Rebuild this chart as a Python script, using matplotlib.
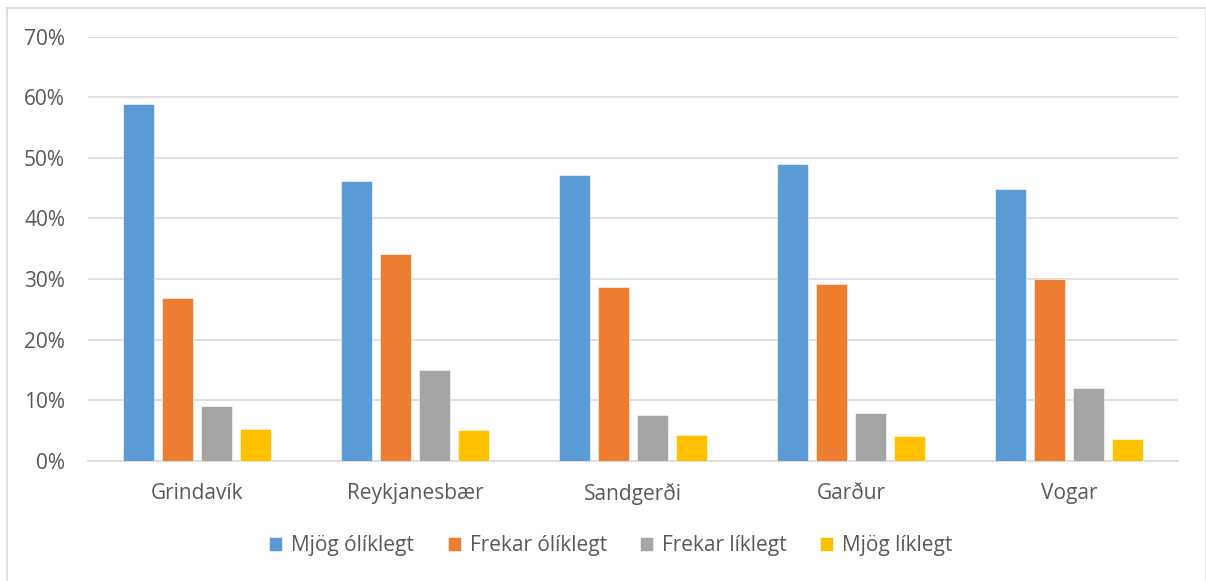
import matplotlib.pyplot as plt
import numpy as np
from matplotlib.lines import Line2D
from matplotlib.ticker import PercentFormatter

categories = ["Grindavík", "Reykjanesbær", "Sandgerði", "Garður", "Vogar"]
series_names = ["Mjög ólíklegt", "Frekar ólíklegt", "Frekar líklegt", "Mjög líklegt"]
mjog_oliklegt = [58.9, 46.2, 47.1, 49.0, 44.9]
frekar_oliklegt = [26.8, 34.1, 28.7, 29.2, 30.0]
frekar_liklegt = [9.0, 14.9, 7.6, 7.9, 12.0]
mjog_liklegt = [5.3, 5.0, 4.3, 4.0, 3.6]
series = [mjog_oliklegt, frekar_oliklegt, frekar_liklegt, mjog_liklegt]
colors = ["#5B9BD5", "#ED7D31", "#A5A5A5", "#FFC000"]

plt.rcParams["font.family"] = ["Open Sans", "DejaVu Sans"]
text_color = "#595959"
fs = 15

W, H = 1206, 581
fig = plt.figure(figsize=(W / 100, H / 100), dpi=100)
# plot area in pixels: x 88..1178, y 36.7..460.7
ax = fig.add_axes([88 / W, 1 - 460.7 / H, (1178 - 88) / W, (460.7 - 36.7) / H])

x = np.arange(len(categories))
width = 0.142
step = 0.18
offsets = (np.arange(len(series)) - 1.5) * step
for vals, off, col, name in zip(series, offsets, colors, series_names):
    ax.bar(x + off, vals, width, color=col, edgecolor="white", linewidth=0.4,
           label=name, zorder=3)

ax.set_xlim(-0.5, len(categories) - 0.5)
ax.set_ylim(0, 70)
ax.set_yticks(np.arange(0, 71, 10))
ax.yaxis.set_major_formatter(PercentFormatter(decimals=0))
ax.grid(axis="y", color="#D9D9D9", linewidth=1.2, zorder=0)
for s in ax.spines.values():
    s.set_visible(False)
ax.spines["bottom"].set_visible(True)
ax.spines["bottom"].set_color("#D9D9D9")
ax.spines["bottom"].set_linewidth(1.2)
ax.set_xticks(x)
ax.set_xticklabels(categories)
ax.tick_params(axis="both", length=0, labelsize=fs, labelcolor=text_color)
ax.tick_params(axis="y", pad=16.5)
ax.tick_params(axis="x", pad=16)

leg = fig.legend(loc="center", bbox_to_anchor=(611 / W, 1 - 546 / H), ncol=4,
                 frameon=False, fontsize=fs, handlelength=0.63, handleheight=0.63,
                 handletextpad=0.43, columnspacing=1.6)
for t in leg.get_texts():
    t.set_color(text_color)

# chart frame
fig.add_artist(Line2D([6.5 / W, 6.5 / W], [0, 1 - 7.5 / H], color="#D9D9D9", lw=1.2))
fig.add_artist(Line2D([6.5 / W, 1], [1 - 7.5 / H, 1 - 7.5 / H], color="#D9D9D9", lw=1.2))
fig.add_artist(Line2D([1 - 1 / W, 1 - 1 / W], [0, 1 - 7.5 / H], color="#EEEEEE", lw=1))

fig.savefig("out.png", dpi=100, facecolor="white")
